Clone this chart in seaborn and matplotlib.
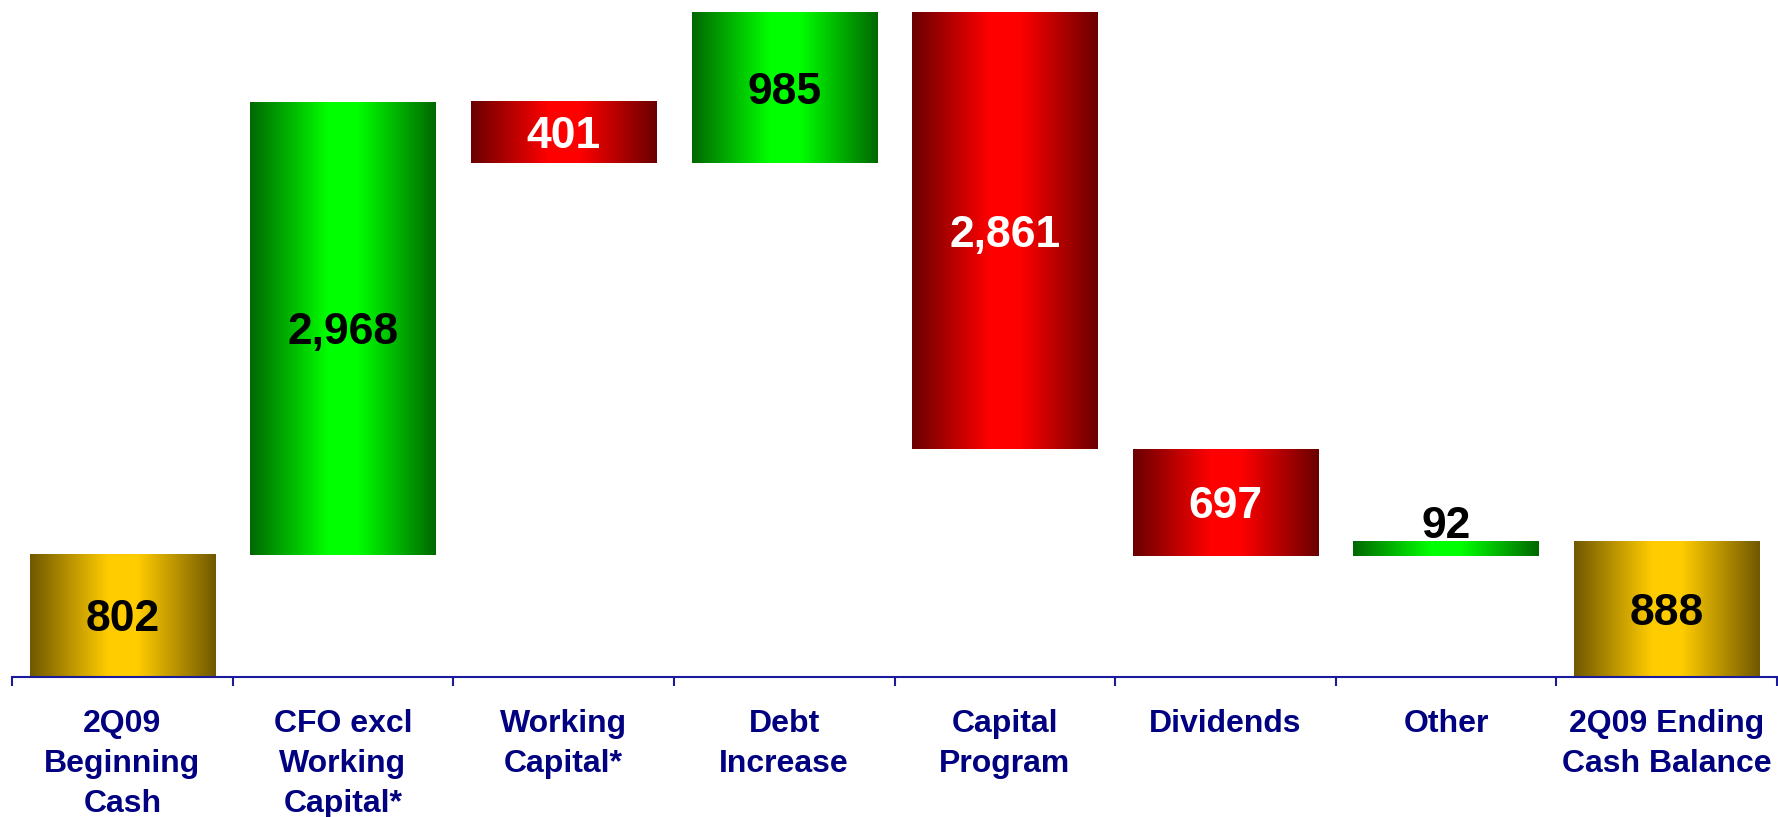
import numpy as np
import matplotlib
matplotlib.use('Agg')
import matplotlib.pyplot as plt
from matplotlib.colors import LinearSegmentedColormap
import seaborn as sns

# categorias e valores do waterfall
categorias = ["2Q09\nBeginning\nCash", "CFO excl\nWorking\nCapital*", "Working\nCapital*",
              "Debt\nIncrease", "Capital\nProgram", "Dividends", "Other",
              "2Q09 Ending\nCash Balance"]
valores = [802, 2968, -401, 985, -2861, -697, 92, 888]
rotulos = ["802", "2,968", "401", "985", "2,861", "697", "92", "888"]
tipos = ["total", "delta", "delta", "delta", "delta", "delta", "delta", "total"]

# calcular base e altura de cada barra
bases = []
alturas = []
acumulado = 0
for v, t in zip(valores, tipos):
    if t == "total":
        bases.append(0)
        alturas.append(v)
        acumulado = v
    else:
        novo = acumulado + v
        bases.append(min(acumulado, novo))
        alturas.append(abs(v))
        acumulado = novo

cores = {
    "ouro": ("#715800", "#ffcc00"),
    "verde": ("#006800", "#00ff00"),
    "vermelho": ("#6a0000", "#ff0000"),
}

def cmap_gradiente(escuro, claro):
    return LinearSegmentedColormap.from_list(
        "g", [(0, escuro), (0.42, claro), (0.58, claro), (1, escuro)])

plt.rcParams['font.family'] = ['Liberation Sans', 'DejaVu Sans']
fig, ax = plt.subplots(figsize=(17.78, 8.17), dpi=100)
fig.subplots_adjust(left=0.0068, right=0.9994, bottom=0.1714, top=1.0)

sns.barplot(x=categorias, y=alturas, bottom=bases, order=categorias, width=0.84,
            errorbar=None, color="white", ax=ax)

grad = np.linspace(0, 1, 256).reshape(1, -1)
for i, patch in enumerate(ax.patches):
    if tipos[i] == "total":
        nome = "ouro"
    elif valores[i] > 0:
        nome = "verde"
    else:
        nome = "vermelho"
    x0, y0 = patch.get_x(), patch.get_y()
    w, h = patch.get_width(), patch.get_height()
    ax.imshow(grad, extent=[x0, x0 + w, y0, y0 + h], aspect='auto',
              cmap=cmap_gradiente(*cores[nome]), zorder=2)
    patch.set_alpha(0)

    cor_txt = "white" if nome == "vermelho" else "black"
    if categorias[i] == "Other":
        ax.text(x0 + w / 2, y0 + h + 22, rotulos[i], ha='center', va='baseline',
                fontsize=32, fontweight='bold', color=cor_txt, zorder=3)
    else:
        ax.annotate(rotulos[i], (x0 + w / 2, y0 + h / 2), xytext=(0, -3),
                    textcoords='offset points', ha='center', va='center',
                    fontsize=32, fontweight='bold', color=cor_txt, zorder=3)

ax.set_xlim(-0.5, len(categorias) - 0.5)
ax.set_ylim(0, 4440)

# ticks nas divisas, rotulos no centro
ax.set_xticks(np.arange(-0.5, len(categorias)), labels=[""] * (len(categorias) + 1))
ax.set_xticks(np.arange(len(categorias)), labels=categorias, minor=True)
ax.tick_params(axis='x', which='major', direction='out', length=6.5, width=1.5,
               color='#1a1a9a')
ax.tick_params(axis='x', which='minor', length=0, pad=23, labelsize=23,
               labelcolor='#000080')
for lbl in ax.get_xticklabels(minor=True):
    lbl.set_fontweight('bold')
    lbl.set_linespacing(1.44)
ax.set_yticks([])
ax.set_xlabel("")
ax.set_ylabel("")
for lado in ['left', 'top', 'right']:
    ax.spines[lado].set_visible(False)
ax.spines['bottom'].set_color('#1a1a9a')
ax.spines['bottom'].set_linewidth(1.5)
ax.spines['bottom'].set_zorder(4)

fig.savefig("out.png", dpi=100)
